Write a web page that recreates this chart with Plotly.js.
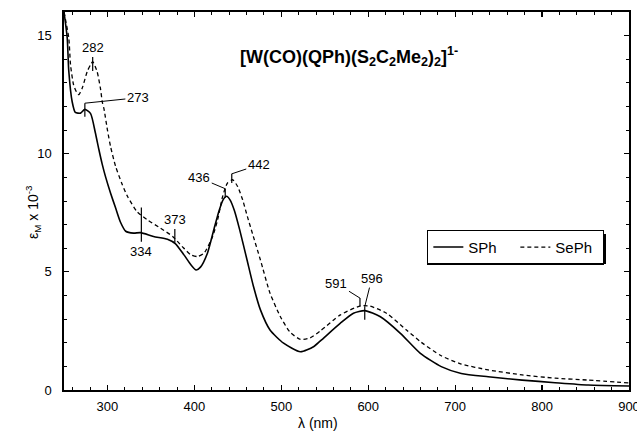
<!DOCTYPE html>
<html>
<head>
<meta charset="utf-8">
<script src="https://cdn.plot.ly/plotly-3.0.1.min.js"></script>
<style>html,body{margin:0;padding:0;background:#fff;}#chart{width:637px;height:436px;}</style>
</head>
<body>
<div id="chart"></div>
<script>
// SPh (solid) spectrum
const sphNm  = [250, 253.7, 255.5, 259.4, 263, 269, 274, 280.6, 286, 290, 294, 298, 303.6, 309.4, 315, 321, 330, 338, 353, 369, 378, 388, 396, 402, 407, 415, 422.8, 428.5, 433, 437, 441, 446, 452, 460.6, 468, 476, 487, 502.6, 522, 537, 545, 568, 583, 596, 614, 637, 660, 684, 707, 738, 777, 815, 853, 900];
const sphEps = [16.0, 14.9, 13.5, 12.2, 11.75, 11.72, 11.88, 11.7, 10.9, 10.2, 9.55, 9.0, 8.33, 7.7, 7.1, 6.72, 6.64, 6.66, 6.5, 6.38, 6.2, 5.72, 5.3, 5.08, 5.2, 5.79, 6.85, 7.6, 8.05, 8.2, 8.05, 7.6, 6.8, 5.5, 4.38, 3.39, 2.54, 1.98, 1.62, 1.83, 2.08, 2.83, 3.25, 3.36, 3.1, 2.4, 1.55, 0.99, 0.7, 0.56, 0.42, 0.31, 0.21, 0.17];
// SePh (dashed) spectrum
const sephNm  = [250, 255.5, 257.5, 261, 265, 267, 271, 276.8, 280.6, 283, 288, 292, 294, 296, 300, 303.6, 309.4, 317, 323, 334, 346, 361, 375, 386, 396, 403.6, 411, 421, 426.7, 432.5, 438, 444, 449.8, 455.5, 461, 467, 476, 487, 499, 510, 522, 533, 545, 568, 591, 602, 621, 644, 661, 684, 707, 738, 777, 815, 853, 900];
const sephEps = [16.0, 14.9, 13.77, 12.92, 12.57, 12.5, 12.78, 13.49, 13.77, 13.9, 13.49, 12.75, 12.2, 11.9, 11.0, 10.3, 9.46, 8.7, 8.2, 7.55, 7.2, 6.85, 6.5, 6.07, 5.72, 5.65, 5.79, 6.5, 7.2, 8.19, 8.76, 8.9, 8.61, 8.05, 7.34, 6.6, 5.5, 4.1, 3.1, 2.45, 2.14, 2.2, 2.5, 3.18, 3.56, 3.55, 3.25, 2.54, 2.02, 1.45, 1.1, 0.85, 0.64, 0.5, 0.42, 0.3];

const seriesNames = ['SPh', 'SePh'];
const xTickVals = [300, 400, 500, 600, 700, 800, 900];
const yTickVals = [0, 5, 10, 15];

// Peak labels
const peakText = ['282', '273', '334', '373', '436', '442', '591', '596'];
const peakNm   = [283, 274, 339, 377.5, 435.5, 443, 590.5, 596];
const peakLow  = [13.5, 11.57, 6.28, 6.23, 8.14, 8.76, 3.53, 2.97];
const peakHigh = [14.1, 12.14, 7.73, 6.82, 8.52, 9.15, 3.89, 3.53];

const FONT = 'Arial, "Liberation Sans", Helvetica, sans-serif';

const traces = [
  {x: sphNm, y: sphEps, name: seriesNames[0], type: 'scatter', mode: 'lines',
   line: {color: '#000', width: 1.6, shape: 'spline', smoothing: 0.6}},
  {x: sephNm, y: sephEps, name: seriesNames[1], type: 'scatter', mode: 'lines',
   line: {color: '#000', width: 1.3, dash: '4px,3px', shape: 'spline', smoothing: 0.6}}
];

const shapes = peakNm.map((v, i) => ({
  type: 'line', xref: 'x', yref: 'y', x0: v, x1: v, y0: peakLow[i], y1: peakHigh[i],
  line: {color: '#000', width: 1.2}
}));
// legend drop shadow
shapes.push({type: 'rect', xref: 'x domain', yref: 'y domain',
  x0: (428 - 64) / 565, x1: (606 - 64) / 565, y0: (390 - 264) / 378, y1: (390 - 234) / 378,
  fillcolor: '#000', line: {width: 0}});

// label placement: [mode, ax, ay]
const place = [
  ['above'], ['arrow', 53, -5.5], ['below'], ['above'],
  ['arrow', -26, -11], ['arrow', 27, -9], ['arrow', -23.5, -14.7], ['arrow', 7, -28]
];
const annFont = {family: FONT, size: 13, color: '#000'};
const annotations = peakText.map((t, i) => {
  const p = place[i];
  if (p[0] === 'above') return {x: peakNm[i], y: peakHigh[i], text: t, showarrow: false, yanchor: 'bottom', font: annFont};
  if (p[0] === 'below') return {x: peakNm[i], y: peakLow[i], text: t, showarrow: false, yanchor: 'top', font: annFont};
  return {x: peakNm[i], y: peakHigh[i], text: t, showarrow: true, arrowhead: 0, arrowwidth: 1, arrowcolor: '#000',
          ax: p[1], ay: p[2], standoff: 0, font: annFont};
});

annotations.push({
  xref: 'paper', yref: 'paper', x: 0.504, y: 0.92, showarrow: false,
  text: '<b>[W(CO)(QPh)(S<sub>2</sub>C<sub>2</sub>Me<sub>2</sub>)<sub>2</sub>]<sup>1-</sup></b>',
  font: {family: FONT, size: 18, color: '#000'}
});
annotations.push({
  xref: 'paper', yref: 'paper', x: 0.45, y: -0.088, yanchor: 'middle', showarrow: false,
  text: 'λ (nm)', font: {family: FONT, size: 14, color: '#000'}
});
annotations.push({
  xref: 'paper', yref: 'paper', x: -0.075, y: 0.47, showarrow: false, textangle: -90,
  text: 'ε<sub>M</sub> x 10<sup>-3</sup>', font: {family: FONT, size: 14, color: '#000'}
});

const axisCommon = {
  showgrid: false, zeroline: false, showline: true, linecolor: '#000', linewidth: 1.6,
  mirror: 'allticks', ticks: 'inside', ticklen: 5, tickwidth: 1.2, tickcolor: '#000',
  ticklabeloverflow: 'allow',
  tickfont: {family: FONT, size: 13, color: '#000'}
};

const layout = {
  width: 637, height: 436,
  margin: {l: 64, r: 8, t: 12, b: 46},
  paper_bgcolor: '#fff', plot_bgcolor: '#fff',
  font: {family: FONT, color: '#000'},
  xaxis: Object.assign({}, axisCommon, {
    range: [250, 900], tickvals: xTickVals, ticklabelstandoff: 4,
    minor: {dtick: 20, tick0: 260, ticks: 'inside', ticklen: 3, tickcolor: '#000', tickwidth: 1}
  }),
  yaxis: Object.assign({}, axisCommon, {
    range: [0, 16], tickvals: yTickVals, ticklabelstandoff: 8,
    minor: {dtick: 1, tick0: 0, ticks: 'inside', ticklen: 3, tickcolor: '#000', tickwidth: 1}
  }),
  showlegend: true,
  legend: {
    orientation: 'h', x: 0.956, xanchor: 'right', y: 0.378, yanchor: 'middle',
    bgcolor: '#fff', bordercolor: '#000', borderwidth: 1.2, entrywidth: 42,
    font: {family: FONT, size: 15, color: '#000'}, itemwidth: 30, traceorder: 'normal'
  },
  shapes: shapes,
  annotations: annotations
};

Plotly.newPlot('chart', traces, layout, {staticPlot: true, displayModeBar: false});
</script>
</body>
</html>
